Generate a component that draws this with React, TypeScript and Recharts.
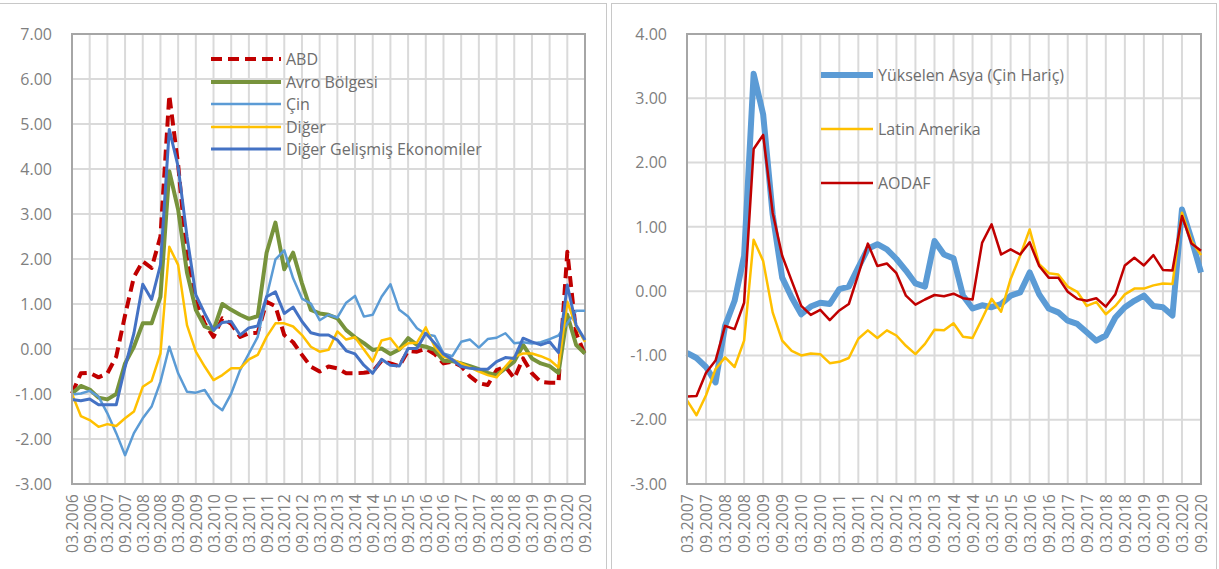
import React from "react";
import {
  CartesianGrid,
  Line,
  LineChart,
  ReferenceArea,
  XAxis,
  YAxis,
} from "recharts";

// quarterly categories, left panel
const leftQuarters = [
  "03.2006", "06.2006", "09.2006", "12.2006",
  "03.2007", "06.2007", "09.2007", "12.2007",
  "03.2008", "06.2008", "09.2008", "12.2008",
  "03.2009", "06.2009", "09.2009", "12.2009",
  "03.2010", "06.2010", "09.2010", "12.2010",
  "03.2011", "06.2011", "09.2011", "12.2011",
  "03.2012", "06.2012", "09.2012", "12.2012",
  "03.2013", "06.2013", "09.2013", "12.2013",
  "03.2014", "06.2014", "09.2014", "12.2014",
  "03.2015", "06.2015", "09.2015", "12.2015",
  "03.2016", "06.2016", "09.2016", "12.2016",
  "03.2017", "06.2017", "09.2017", "12.2017",
  "03.2018", "06.2018", "09.2018", "12.2018",
  "03.2019", "06.2019", "09.2019", "12.2019",
  "03.2020", "06.2020", "09.2020",
];

const abd = [
  -0.99, -0.54, -0.53, -0.63, -0.54, -0.17, 0.75, 1.6, 1.95, 1.8,
  2.5, 5.64, 4.1, 2.0, 1.05, 0.57, 0.27, 0.68, 0.56, 0.27,
  0.35, 0.36, 1.05, 0.95, 0.31, 0.15, -0.13, -0.39, -0.5, -0.39,
  -0.43, -0.54, -0.54, -0.53, -0.5, -0.26, -0.32, -0.38, -0.04, -0.06,
  0.01, -0.11, -0.32, -0.28, -0.38, -0.61, -0.76, -0.8, -0.47, -0.39,
  -0.65, -0.21, -0.54, -0.73, -0.75, -0.75, 2.16, 0.35, -0.13,
];
const avro = [
  -0.99, -0.82, -0.9, -1.08, -1.12, -1.0, -0.32, 0.05, 0.57, 0.57,
  1.16, 3.95, 3.1, 1.7, 0.87, 0.5, 0.42, 1.0, 0.87, 0.76,
  0.67, 0.73, 2.14, 2.81, 1.77, 2.14, 1.46, 0.87, 0.79, 0.76,
  0.68, 0.42, 0.26, 0.13, -0.02, 0.01, -0.11, -0.01, 0.24, 0.09,
  0.05, -0.02, -0.26, -0.27, -0.32, -0.38, -0.45, -0.53, -0.58, -0.43,
  -0.28, 0.09, -0.21, -0.32, -0.38, -0.53, 0.76, 0.09, -0.1,
];
const cin = [
  -1.01, -0.99, -0.93, -1.06, -1.43, -1.87, -2.36, -1.87, -1.54, -1.28,
  -0.73, 0.05, -0.54, -0.95, -0.97, -0.91, -1.21, -1.36, -0.99, -0.47,
  -0.1, 0.27, 1.16, 1.99, 2.19, 1.57, 1.12, 1.01, 0.64, 0.76,
  0.7, 1.03, 1.18, 0.72, 0.76, 1.16, 1.44, 0.87, 0.72, 0.46,
  0.33, 0.29, -0.1, -0.16, 0.16, 0.21, 0.03, 0.22, 0.25, 0.35,
  0.13, 0.15, 0.12, 0.15, 0.22, 0.3, 0.57, 0.85, 0.85,
];
const diger = [
  -1.0, -1.49, -1.58, -1.73, -1.67, -1.71, -1.54, -1.39, -0.84, -0.71,
  -0.1, 2.27, 1.87, 0.53, -0.06, -0.39, -0.69, -0.58, -0.43, -0.43,
  -0.23, -0.13, 0.27, 0.57, 0.57, 0.5, 0.31, 0.05, -0.06, -0.02,
  0.39, 0.21, 0.26, -0.01, -0.28, 0.19, 0.24, -0.01, 0.13, 0.14,
  0.48, 0.05, -0.17, -0.23, -0.32, -0.41, -0.5, -0.58, -0.63, -0.39,
  -0.17, -0.1, -0.1, -0.16, -0.24, -0.41, 1.05, 0.5, 0.16,
];
const digerGelismis = [
  -1.12, -1.15, -1.11, -1.24, -1.24, -1.24, -0.4, 0.35, 1.44, 1.1,
  1.87, 4.88, 4.05, 2.5, 1.2, 0.79, 0.42, 0.59, 0.61, 0.31,
  0.47, 0.51, 1.16, 1.27, 0.79, 0.93, 0.61, 0.36, 0.31, 0.31,
  0.2, -0.04, -0.11, -0.36, -0.54, -0.23, -0.36, -0.38, 0.01, 0.01,
  0.35, 0.13, -0.11, -0.24, -0.39, -0.43, -0.45, -0.45, -0.28, -0.19,
  -0.21, 0.24, 0.16, 0.09, 0.16, -0.08, 1.42, 0.53, 0.2,
];

// quarterly categories, right panel
const rightQuarters = leftQuarters.slice(4);

const yukselenAsya = [
  -0.96, -1.04, -1.18, -1.42, -0.54, -0.15, 0.55, 3.38, 2.75, 1.19,
  0.21, -0.1, -0.36, -0.24, -0.18, -0.2, 0.03, 0.07, 0.37, 0.66,
  0.73, 0.65, 0.5, 0.32, 0.12, 0.07, 0.78, 0.57, 0.51, -0.07,
  -0.27, -0.22, -0.25, -0.2, -0.07, -0.02, 0.29, -0.05, -0.27, -0.33,
  -0.46, -0.51, -0.64, -0.77, -0.69, -0.41, -0.25, -0.15, -0.07, -0.23,
  -0.25, -0.38, 1.27, 0.81, 0.29,
];
const latinAmerika = [
  -1.7, -1.93, -1.62, -1.21, -1.03, -1.18, -0.77, 0.8, 0.47, -0.33,
  -0.77, -0.93, -1.0, -0.97, -0.98, -1.12, -1.1, -1.04, -0.74, -0.61,
  -0.73, -0.61, -0.69, -0.85, -0.98, -0.82, -0.6, -0.61, -0.5, -0.71,
  -0.73, -0.43, -0.12, -0.32, 0.19, 0.55, 0.96, 0.42, 0.28, 0.26,
  0.07, -0.01, -0.23, -0.17, -0.36, -0.23, -0.05, 0.04, 0.04, 0.09,
  0.12, 0.11, 1.22, 0.78, 0.56,
];
const aodaf = [
  -1.64, -1.63, -1.27, -1.08, -0.54, -0.59, -0.18, 2.21, 2.43, 1.22,
  0.55, 0.16, -0.23, -0.37, -0.29, -0.45, -0.3, -0.2, 0.26, 0.74,
  0.39, 0.43, 0.28, -0.07, -0.21, -0.13, -0.06, -0.08, -0.04, -0.11,
  -0.13, 0.75, 1.04, 0.57, 0.65, 0.57, 0.76, 0.39, 0.21, 0.21,
  -0.01, -0.12, -0.15, -0.11, -0.24, -0.05, 0.4, 0.52, 0.4, 0.56,
  0.33, 0.32, 1.17, 0.74, 0.63,
];

const leftYTicks = [-3, -2, -1, 0, 1, 2, 3, 4, 5, 6, 7];
const rightYTicks = [-3, -2, -1, 0, 1, 2, 3, 4];

// only March / September are labelled
const leftXTicks = leftQuarters.filter((q) => !q.startsWith("06") && !q.startsWith("12"));
const rightXTicks = rightQuarters.filter((q) => !q.startsWith("06") && !q.startsWith("12"));

const leftData = leftQuarters.map((q, i) => ({
  q,
  abd: abd[i],
  avro: avro[i],
  cin: cin[i],
  diger: diger[i],
  dge: digerGelismis[i],
}));

const rightData = rightQuarters.map((q, i) => ({
  q,
  asya: yukselenAsya[i],
  latin: latinAmerika[i],
  aodaf: aodaf[i],
}));

type Series = { key: string; name: string; color: string; width: number; dash?: string };

const leftSeries: Series[] = [
  { key: "abd", name: "ABD", color: "#C00000", width: 4, dash: "11 6" },
  { key: "avro", name: "Avro Bölgesi", color: "#77933C", width: 4 },
  { key: "cin", name: "Çin", color: "#5B9BD5", width: 2.5 },
  { key: "diger", name: "Diğer", color: "#FFC000", width: 2.5 },
  { key: "dge", name: "Diğer Gelişmiş Ekonomiler", color: "#4472C4", width: 3 },
];

const rightSeries: Series[] = [
  { key: "asya", name: "Yükselen Asya (Çin Hariç)", color: "#5B9BD5", width: 6 },
  { key: "latin", name: "Latin Amerika", color: "#FFC000", width: 2.5 },
  { key: "aodaf", name: "AODAF", color: "#C00000", width: 2.5 },
];

const FONT = "'Open Sans', 'DejaVu Sans', sans-serif";
const TEXT = "#7f7f7f";
const GRID = "#dadada";
const FRAME = "#a6a6a6";

const XTick = (props: any) => {
  const { x, y, payload } = props;
  return (
    <text
      transform={`translate(${x},${y}) rotate(-90)`}
      textAnchor="end"
      dominantBaseline="central"
      fontSize={16}
      fontFamily={FONT}
      fill={TEXT}
    >
      {payload.value}
    </text>
  );
};

function LegendBox(props: {
  series: Series[];
  left: number;
  top: number;
  lineLen: number;
  rowH: number;
}) {
  return (
    <div
      style={{
        position: "absolute",
        left: props.left,
        top: props.top,
        fontFamily: FONT,
        fontSize: 16,
        color: "#6e6e6e",
        pointerEvents: "none",
      }}
    >
      {props.series.map((s) => (
        <div key={s.key} style={{ display: "flex", alignItems: "center", height: props.rowH, whiteSpace: "nowrap" }}>
          <svg width={props.lineLen} height={10} style={{ marginRight: 5 }}>
            <line
              x1={0}
              y1={5}
              x2={props.lineLen}
              y2={5}
              stroke={s.color}
              strokeWidth={s.width}
              strokeDasharray={s.dash}
            />
          </svg>
          <span>{s.name}</span>
        </div>
      ))}
    </div>
  );
}

function Panel(props: {
  data: any[];
  series: Series[];
  xTicks: string[];
  yTicks: number[];
  yAxisWidth: number;
  rightMargin: number;
  width: number;
}) {
  const { data, series, xTicks, yTicks } = props;
  const first = data[0].q;
  const last = data[data.length - 1].q;
  return (
    <LineChart
      width={props.width}
      height={569}
      data={data}
      margin={{ top: 34, right: props.rightMargin, left: 0, bottom: 0 }}
    >
      <CartesianGrid stroke={GRID} strokeWidth={2} />
      <XAxis
        dataKey="q"
        ticks={xTicks}
        interval={0}
        height={85}
        tickLine={false}
        tickSize={0}
        tickMargin={10}
        axisLine={{ stroke: FRAME, strokeWidth: 2 }}
        tick={<XTick />}
      />
      <YAxis
        domain={[yTicks[0], yTicks[yTicks.length - 1]]}
        ticks={yTicks}
        interval={0}
        width={props.yAxisWidth}
        tickLine={false}
        tickSize={0}
        tickMargin={20}
        axisLine={{ stroke: FRAME, strokeWidth: 2 }}
        tickFormatter={(v: number) => v.toFixed(2)}
        tick={{ fontSize: 16, fontFamily: FONT, fill: TEXT }}
      />
      <ReferenceArea
        x1={first}
        x2={last}
        y1={yTicks[0]}
        y2={yTicks[yTicks.length - 1]}
        fill="none"
        stroke={FRAME}
        strokeWidth={2}
        ifOverflow="visible"
      />
      {series.map((s) => (
        <Line
          key={s.key}
          type="linear"
          dataKey={s.key}
          name={s.name}
          stroke={s.color}
          strokeWidth={s.width}
          strokeDasharray={s.dash}
          strokeLinejoin="round"
          dot={false}
          activeDot={false}
          isAnimationActive={false}
        />
      ))}
    </LineChart>
  );
}

export default function App() {
  return (
    <div
      style={{
        position: "absolute",
        left: 0,
        top: 0,
        width: 1219,
        height: 569,
        background: "#fff",
        overflow: "hidden",
      }}
    >
      <div
        style={{
          position: "absolute",
          left: -1,
          top: 3,
          width: 606,
          height: 600,
          border: "1px solid #c8c8c8",
        }}
      />
      <div
        style={{
          position: "absolute",
          left: 611,
          top: 3,
          width: 604,
          height: 600,
          border: "1px solid #c8c8c8",
        }}
      />
      <div style={{ position: "absolute", left: 0, top: 0 }}>
        <Panel
          data={leftData}
          series={leftSeries}
          xTicks={leftXTicks}
          yTicks={leftYTicks}
          yAxisWidth={72}
          rightMargin={21}
          width={606}
        />
        <LegendBox series={leftSeries} left={211} top={48} lineLen={70} rowH={22.5} />
      </div>
      <div style={{ position: "absolute", left: 611, top: 0 }}>
        <Panel
          data={rightData}
          series={rightSeries}
          xTicks={rightXTicks}
          yTicks={rightYTicks}
          yAxisWidth={76}
          rightMargin={15}
          width={605}
        />
        <LegendBox series={rightSeries} left={210} top={48} lineLen={52} rowH={54} />
      </div>
    </div>
  );
}
